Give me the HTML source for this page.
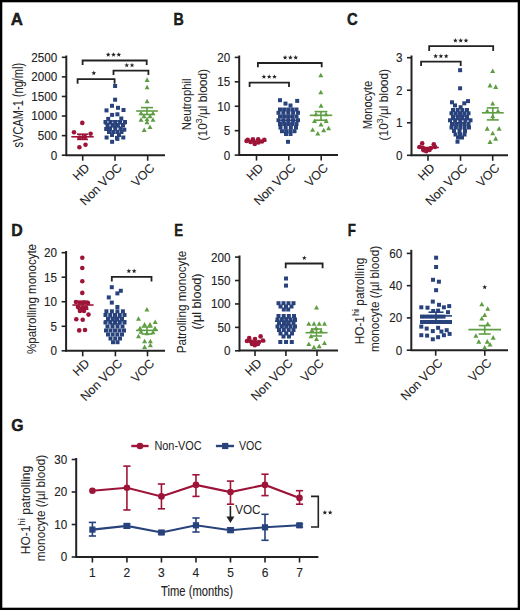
<!DOCTYPE html>
<html><head><meta charset="utf-8"><style>
html,body{margin:0;padding:0;background:#fff;}
body{width:520px;height:610px;overflow:hidden;}
svg{display:block;font-family:"Liberation Sans", sans-serif;}
</style></head><body>
<svg width="520" height="610" viewBox="0 0 520 610">
<rect x="0" y="0" width="520" height="610" fill="#fff"/>
<rect x="1.15" y="1.15" width="517.7" height="607.7" fill="none" stroke="#000" stroke-width="2.3"/>
<text x="10.8" y="25" font-size="17" text-anchor="start" font-weight="bold" fill="#222222" textLength="12.2" lengthAdjust="spacingAndGlyphs" stroke="#000" stroke-width="0.4">A</text>
<text x="173.5" y="24.8" font-size="17" text-anchor="start" font-weight="bold" fill="#222222" textLength="10.3" lengthAdjust="spacingAndGlyphs" stroke="#000" stroke-width="0.4">B</text>
<text x="346.9" y="25" font-size="17" text-anchor="start" font-weight="bold" fill="#222222" textLength="10.7" lengthAdjust="spacingAndGlyphs" stroke="#000" stroke-width="0.4">C</text>
<text x="11.2" y="236" font-size="17" text-anchor="start" font-weight="bold" fill="#222222" textLength="11.5" lengthAdjust="spacingAndGlyphs" stroke="#000" stroke-width="0.4">D</text>
<text x="174.2" y="236" font-size="17" text-anchor="start" font-weight="bold" fill="#222222" textLength="8.8" lengthAdjust="spacingAndGlyphs" stroke="#000" stroke-width="0.4">E</text>
<text x="347.7" y="236" font-size="17" text-anchor="start" font-weight="bold" fill="#222222" textLength="8.1" lengthAdjust="spacingAndGlyphs" stroke="#000" stroke-width="0.4">F</text>
<text x="11.2" y="431.3" font-size="17" text-anchor="start" font-weight="bold" fill="#222222" textLength="12.3" lengthAdjust="spacingAndGlyphs" stroke="#000" stroke-width="0.4">G</text>
<line x1="66.3" y1="55.5" x2="66.3" y2="156.0" stroke="#222222" stroke-width="2"/>
<line x1="65.5" y1="155.2" x2="165" y2="155.2" stroke="#222222" stroke-width="2"/>
<line x1="61.8" y1="155.2" x2="66.3" y2="155.2" stroke="#222222" stroke-width="1.6"/>
<text x="57.3" y="159.6" font-size="12" text-anchor="end" font-weight="normal" fill="#222222" textLength="6.5" lengthAdjust="spacingAndGlyphs" stroke="#262626" stroke-width="0.12">0</text>
<line x1="61.8" y1="135.62" x2="66.3" y2="135.62" stroke="#222222" stroke-width="1.6"/>
<text x="57.3" y="140.02" font-size="12" text-anchor="end" font-weight="normal" fill="#222222" textLength="19.5" lengthAdjust="spacingAndGlyphs" stroke="#262626" stroke-width="0.12">500</text>
<line x1="61.8" y1="116.03999999999999" x2="66.3" y2="116.03999999999999" stroke="#222222" stroke-width="1.6"/>
<text x="57.3" y="120.44" font-size="12" text-anchor="end" font-weight="normal" fill="#222222" textLength="26.0" lengthAdjust="spacingAndGlyphs" stroke="#262626" stroke-width="0.12">1000</text>
<line x1="61.8" y1="96.45999999999998" x2="66.3" y2="96.45999999999998" stroke="#222222" stroke-width="1.6"/>
<text x="57.3" y="100.85999999999999" font-size="12" text-anchor="end" font-weight="normal" fill="#222222" textLength="26.0" lengthAdjust="spacingAndGlyphs" stroke="#262626" stroke-width="0.12">1500</text>
<line x1="61.8" y1="76.88" x2="66.3" y2="76.88" stroke="#222222" stroke-width="1.6"/>
<text x="57.3" y="81.28" font-size="12" text-anchor="end" font-weight="normal" fill="#222222" textLength="26.0" lengthAdjust="spacingAndGlyphs" stroke="#262626" stroke-width="0.12">2000</text>
<line x1="61.8" y1="57.3" x2="66.3" y2="57.3" stroke="#222222" stroke-width="1.6"/>
<text x="57.3" y="61.699999999999996" font-size="12" text-anchor="end" font-weight="normal" fill="#222222" textLength="26.0" lengthAdjust="spacingAndGlyphs" stroke="#262626" stroke-width="0.12">2500</text>
<line x1="82.7" y1="155.2" x2="82.7" y2="160.7" stroke="#222222" stroke-width="1.6"/>
<text x="90.3" y="168.7" font-size="12.3" text-anchor="end" font-weight="normal" fill="#222222" transform="rotate(-45 90.3 168.7)" stroke="#262626" stroke-width="0.12">HD</text>
<line x1="115" y1="155.2" x2="115" y2="160.7" stroke="#222222" stroke-width="1.6"/>
<text x="122.6" y="168.7" font-size="12.3" text-anchor="end" font-weight="normal" fill="#222222" textLength="53" lengthAdjust="spacingAndGlyphs" transform="rotate(-45 122.6 168.7)" stroke="#262626" stroke-width="0.12">Non VOC</text>
<line x1="147.7" y1="155.2" x2="147.7" y2="160.7" stroke="#222222" stroke-width="1.6"/>
<text x="155.29999999999998" y="168.7" font-size="12.3" text-anchor="end" font-weight="normal" fill="#222222" transform="rotate(-45 155.29999999999998 168.7)" stroke="#262626" stroke-width="0.12">VOC</text>
<text x="22.8" y="105.1" font-size="14" text-anchor="middle" font-weight="normal" fill="#262626" textLength="84.6" lengthAdjust="spacingAndGlyphs" transform="rotate(-90 22.8 105.1)" stroke="#262626" stroke-width="0.05">sVCAM-1 (ng/ml)</text>
<polyline points="77.6,83.8 77.6,79.1 114.6,79.1 114.6,83.8" fill="none" stroke="#222222" stroke-width="1.8"/>
<polygon points="93.80,70.60 94.42,72.25 96.18,72.33 94.80,73.42 95.27,75.12 93.80,74.15 92.33,75.12 92.80,73.42 91.42,72.33 93.18,72.25" fill="#222222"/>
<polyline points="113.5,74.9 113.5,70.7 148.4,70.7 148.4,74.9" fill="none" stroke="#222222" stroke-width="1.8"/>
<polygon points="126.75,62.80 127.37,64.45 129.13,64.53 127.75,65.62 128.22,67.32 126.75,66.35 125.28,67.32 125.75,65.62 124.37,64.53 126.13,64.45" fill="#222222"/>
<polygon points="132.05,62.80 132.67,64.45 134.43,64.53 133.05,65.62 133.52,67.32 132.05,66.35 130.58,67.32 131.05,65.62 129.67,64.53 131.43,64.45" fill="#222222"/>
<polyline points="82.6,65 82.6,60.5 146.7,60.5 146.7,65" fill="none" stroke="#222222" stroke-width="1.8"/>
<polygon points="108.20,52.20 108.82,53.85 110.58,53.93 109.20,55.02 109.67,56.72 108.20,55.75 106.73,56.72 107.20,55.02 105.82,53.93 107.58,53.85" fill="#222222"/>
<polygon points="113.50,52.20 114.12,53.85 115.88,53.93 114.50,55.02 114.97,56.72 113.50,55.75 112.03,56.72 112.50,55.02 111.12,53.93 112.88,53.85" fill="#222222"/>
<polygon points="118.80,52.20 119.42,53.85 121.18,53.93 119.80,55.02 120.27,56.72 118.80,55.75 117.33,56.72 117.80,55.02 116.42,53.93 118.18,53.85" fill="#222222"/>
<circle cx="82.3" cy="122.9" r="2.3" fill="#9e1438"/>
<circle cx="74" cy="132.2" r="2.3" fill="#9e1438"/>
<circle cx="90.6" cy="133.7" r="2.3" fill="#9e1438"/>
<circle cx="79.4" cy="147.2" r="2.3" fill="#9e1438"/>
<circle cx="85.5" cy="144.8" r="2.3" fill="#9e1438"/>
<circle cx="79.5" cy="137.5" r="2.3" fill="#9e1438"/>
<circle cx="85" cy="137" r="2.3" fill="#9e1438"/>
<line x1="71.3" y1="136.8" x2="93.7" y2="136.8" stroke="#9e1438" stroke-width="1.6"/>
<line x1="77.0" y1="134.2" x2="88.0" y2="134.2" stroke="#9e1438" stroke-width="1.6"/>
<line x1="77.0" y1="139.4" x2="88.0" y2="139.4" stroke="#9e1438" stroke-width="1.6"/>
<line x1="82.5" y1="134.2" x2="82.5" y2="139.4" stroke="#9e1438" stroke-width="1.6"/>
<rect x="113.10" y="84.00" width="4.0" height="4.0" fill="#28427c"/>
<rect x="113.10" y="97.70" width="4.0" height="4.0" fill="#28427c"/>
<rect x="110.00" y="103.80" width="4.0" height="4.0" fill="#28427c"/>
<rect x="116.00" y="105.80" width="4.0" height="4.0" fill="#28427c"/>
<rect x="104.50" y="108.40" width="4.0" height="4.0" fill="#28427c"/>
<rect x="121.50" y="108.00" width="4.0" height="4.0" fill="#28427c"/>
<rect x="110.10" y="112.90" width="4.0" height="4.0" fill="#28427c"/>
<rect x="115.40" y="112.30" width="4.0" height="4.0" fill="#28427c"/>
<rect x="106.20" y="116.90" width="4.0" height="4.0" fill="#28427c"/>
<rect x="119.30" y="116.50" width="4.0" height="4.0" fill="#28427c"/>
<rect x="104.20" y="127.00" width="4.0" height="4.0" fill="#28427c"/>
<rect x="122.30" y="127.70" width="4.0" height="4.0" fill="#28427c"/>
<rect x="104.60" y="135.50" width="4.0" height="4.0" fill="#28427c"/>
<rect x="110.10" y="139.80" width="4.0" height="4.0" fill="#28427c"/>
<rect x="115.40" y="136.90" width="4.0" height="4.0" fill="#28427c"/>
<rect x="121.30" y="135.50" width="4.0" height="4.0" fill="#28427c"/>
<rect x="103.50" y="120.00" width="4.0" height="4.0" fill="#28427c"/>
<rect x="108.38" y="120.00" width="4.0" height="4.0" fill="#28427c"/>
<rect x="113.25" y="120.00" width="4.0" height="4.0" fill="#28427c"/>
<rect x="118.12" y="120.00" width="4.0" height="4.0" fill="#28427c"/>
<rect x="123.00" y="120.00" width="4.0" height="4.0" fill="#28427c"/>
<rect x="105.50" y="123.50" width="4.0" height="4.0" fill="#28427c"/>
<rect x="110.67" y="123.50" width="4.0" height="4.0" fill="#28427c"/>
<rect x="115.83" y="123.50" width="4.0" height="4.0" fill="#28427c"/>
<rect x="121.00" y="123.50" width="4.0" height="4.0" fill="#28427c"/>
<rect x="108.00" y="126.50" width="4.0" height="4.0" fill="#28427c"/>
<rect x="113.25" y="126.50" width="4.0" height="4.0" fill="#28427c"/>
<rect x="118.50" y="126.50" width="4.0" height="4.0" fill="#28427c"/>
<rect x="107.00" y="130.00" width="4.0" height="4.0" fill="#28427c"/>
<rect x="111.17" y="130.00" width="4.0" height="4.0" fill="#28427c"/>
<rect x="115.33" y="130.00" width="4.0" height="4.0" fill="#28427c"/>
<rect x="119.50" y="130.00" width="4.0" height="4.0" fill="#28427c"/>
<rect x="110.00" y="133.00" width="4.0" height="4.0" fill="#28427c"/>
<rect x="117.00" y="133.00" width="4.0" height="4.0" fill="#28427c"/>
<rect x="115.00" y="135.80" width="4.0" height="4.0" fill="#28427c"/>
<line x1="104.2" y1="123.8" x2="126.2" y2="123.8" stroke="#28427c" stroke-width="1.6"/>
<line x1="110.2" y1="121" x2="120.2" y2="121" stroke="#28427c" stroke-width="1.6"/>
<line x1="110.2" y1="126.5" x2="120.2" y2="126.5" stroke="#28427c" stroke-width="1.6"/>
<line x1="115.2" y1="121" x2="115.2" y2="126.5" stroke="#28427c" stroke-width="1.6"/>
<polygon points="144.60,81.90 149.60,81.90 147.10,77.30" fill="#5f9d43"/>
<polygon points="144.60,89.30 149.60,89.30 147.10,84.70" fill="#5f9d43"/>
<polygon points="144.60,103.30 149.60,103.30 147.10,98.70" fill="#5f9d43"/>
<polygon points="141.70,132.00 146.70,132.00 144.20,127.40" fill="#5f9d43"/>
<polygon points="147.50,129.10 152.50,129.10 150.00,124.50" fill="#5f9d43"/>
<polygon points="138.50,115.30 143.50,115.30 141.00,110.70" fill="#5f9d43"/>
<polygon points="150.50,115.30 155.50,115.30 153.00,110.70" fill="#5f9d43"/>
<polygon points="141.50,118.30 146.50,118.30 144.00,113.70" fill="#5f9d43"/>
<polygon points="147.50,118.30 152.50,118.30 150.00,113.70" fill="#5f9d43"/>
<polygon points="144.50,121.30 149.50,121.30 147.00,116.70" fill="#5f9d43"/>
<polygon points="138.50,121.80 143.50,121.80 141.00,117.20" fill="#5f9d43"/>
<polygon points="150.50,121.80 155.50,121.80 153.00,117.20" fill="#5f9d43"/>
<polygon points="144.50,124.30 149.50,124.30 147.00,119.70" fill="#5f9d43"/>
<line x1="136.2" y1="111" x2="157.8" y2="111" stroke="#5f9d43" stroke-width="1.6"/>
<line x1="141" y1="107.6" x2="153" y2="107.6" stroke="#5f9d43" stroke-width="1.6"/>
<line x1="141" y1="114.5" x2="153" y2="114.5" stroke="#5f9d43" stroke-width="1.6"/>
<line x1="147" y1="107.6" x2="147" y2="114.5" stroke="#5f9d43" stroke-width="1.6"/>
<line x1="239.2" y1="55.5" x2="239.2" y2="155.9" stroke="#222222" stroke-width="2"/>
<line x1="238.39999999999998" y1="155.1" x2="338" y2="155.1" stroke="#222222" stroke-width="2"/>
<line x1="234.7" y1="155.1" x2="239.2" y2="155.1" stroke="#222222" stroke-width="1.6"/>
<text x="230.2" y="159.5" font-size="12" text-anchor="end" font-weight="normal" fill="#222222" textLength="6.5" lengthAdjust="spacingAndGlyphs" stroke="#262626" stroke-width="0.12">0</text>
<line x1="234.7" y1="130.675" x2="239.2" y2="130.675" stroke="#222222" stroke-width="1.6"/>
<text x="230.2" y="135.07500000000002" font-size="12" text-anchor="end" font-weight="normal" fill="#222222" textLength="6.5" lengthAdjust="spacingAndGlyphs" stroke="#262626" stroke-width="0.12">5</text>
<line x1="234.7" y1="106.25" x2="239.2" y2="106.25" stroke="#222222" stroke-width="1.6"/>
<text x="230.2" y="110.65" font-size="12" text-anchor="end" font-weight="normal" fill="#222222" textLength="13.0" lengthAdjust="spacingAndGlyphs" stroke="#262626" stroke-width="0.12">10</text>
<line x1="234.7" y1="81.825" x2="239.2" y2="81.825" stroke="#222222" stroke-width="1.6"/>
<text x="230.2" y="86.22500000000001" font-size="12" text-anchor="end" font-weight="normal" fill="#222222" textLength="13.0" lengthAdjust="spacingAndGlyphs" stroke="#262626" stroke-width="0.12">15</text>
<line x1="234.7" y1="57.400000000000006" x2="239.2" y2="57.400000000000006" stroke="#222222" stroke-width="1.6"/>
<text x="230.2" y="61.800000000000004" font-size="12" text-anchor="end" font-weight="normal" fill="#222222" textLength="13.0" lengthAdjust="spacingAndGlyphs" stroke="#262626" stroke-width="0.12">20</text>
<line x1="256.5" y1="155.1" x2="256.5" y2="160.6" stroke="#222222" stroke-width="1.6"/>
<text x="264.1" y="168.6" font-size="12.3" text-anchor="end" font-weight="normal" fill="#222222" transform="rotate(-45 264.1 168.6)" stroke="#262626" stroke-width="0.12">HD</text>
<line x1="288.8" y1="155.1" x2="288.8" y2="160.6" stroke="#222222" stroke-width="1.6"/>
<text x="296.40000000000003" y="168.6" font-size="12.3" text-anchor="end" font-weight="normal" fill="#222222" textLength="53" lengthAdjust="spacingAndGlyphs" transform="rotate(-45 296.40000000000003 168.6)" stroke="#262626" stroke-width="0.12">Non VOC</text>
<line x1="321.2" y1="155.1" x2="321.2" y2="160.6" stroke="#222222" stroke-width="1.6"/>
<text x="328.8" y="168.6" font-size="12.3" text-anchor="end" font-weight="normal" fill="#222222" transform="rotate(-45 328.8 168.6)" stroke="#262626" stroke-width="0.12">VOC</text>
<text x="191.3" y="104.3" font-size="12.3" text-anchor="middle" font-weight="normal" fill="#262626" textLength="51.7" lengthAdjust="spacingAndGlyphs" transform="rotate(-90 191.3 104.3)" stroke="#262626" stroke-width="0.05">Neutrophil</text>
<text x="207" y="104.7" font-size="12.3" text-anchor="middle" font-weight="normal" fill="#262626" textLength="71.5" lengthAdjust="spacingAndGlyphs" transform="rotate(-90 207 104.7)" stroke="#262626" stroke-width="0.05">(10<tspan font-size='9' dy='-4.5'>3</tspan><tspan dy='4.5'>/µl blood)</tspan></text>
<polyline points="249.6,87 249.6,82.7 289,82.7 289,87" fill="none" stroke="#222222" stroke-width="1.8"/>
<polygon points="263.90,74.30 264.52,75.95 266.28,76.03 264.90,77.12 265.37,78.82 263.90,77.85 262.43,78.82 262.90,77.12 261.52,76.03 263.28,75.95" fill="#222222"/>
<polygon points="269.20,74.30 269.82,75.95 271.58,76.03 270.20,77.12 270.67,78.82 269.20,77.85 267.73,78.82 268.20,77.12 266.82,76.03 268.58,75.95" fill="#222222"/>
<polygon points="274.50,74.30 275.12,75.95 276.88,76.03 275.50,77.12 275.97,78.82 274.50,77.85 273.03,78.82 273.50,77.12 272.12,76.03 273.88,75.95" fill="#222222"/>
<polyline points="257.9,67.3 257.9,63 321.7,63 321.7,67.3" fill="none" stroke="#222222" stroke-width="1.8"/>
<polygon points="285.10,55.10 285.72,56.75 287.48,56.83 286.10,57.92 286.57,59.62 285.10,58.65 283.63,59.62 284.10,57.92 282.72,56.83 284.48,56.75" fill="#222222"/>
<polygon points="290.40,55.10 291.02,56.75 292.78,56.83 291.40,57.92 291.87,59.62 290.40,58.65 288.93,59.62 289.40,57.92 288.02,56.83 289.78,56.75" fill="#222222"/>
<polygon points="295.70,55.10 296.32,56.75 298.08,56.83 296.70,57.92 297.17,59.62 295.70,58.65 294.23,59.62 294.70,57.92 293.32,56.83 295.08,56.75" fill="#222222"/>
<circle cx="247.7" cy="139.7" r="2.3" fill="#9e1438"/>
<circle cx="252.9" cy="139.3" r="2.3" fill="#9e1438"/>
<circle cx="258.2" cy="139.3" r="2.3" fill="#9e1438"/>
<circle cx="264.3" cy="139.7" r="2.3" fill="#9e1438"/>
<circle cx="246.5" cy="141" r="2.3" fill="#9e1438"/>
<circle cx="250.5" cy="142" r="2.3" fill="#9e1438"/>
<circle cx="254.5" cy="142.8" r="2.3" fill="#9e1438"/>
<circle cx="258.5" cy="142.5" r="2.3" fill="#9e1438"/>
<circle cx="262" cy="141.5" r="2.3" fill="#9e1438"/>
<circle cx="254.8" cy="144" r="2.3" fill="#9e1438"/>
<line x1="245" y1="141" x2="266.5" y2="141" stroke="#9e1438" stroke-width="1.6"/>
<rect x="278.00" y="98.20" width="4.0" height="4.0" fill="#28427c"/>
<rect x="295.20" y="98.90" width="4.0" height="4.0" fill="#28427c"/>
<rect x="283.50" y="101.60" width="4.0" height="4.0" fill="#28427c"/>
<rect x="288.50" y="103.50" width="4.0" height="4.0" fill="#28427c"/>
<rect x="286.00" y="139.80" width="4.0" height="4.0" fill="#28427c"/>
<rect x="278.00" y="107.50" width="4.0" height="4.0" fill="#28427c"/>
<rect x="282.12" y="107.50" width="4.0" height="4.0" fill="#28427c"/>
<rect x="286.25" y="107.50" width="4.0" height="4.0" fill="#28427c"/>
<rect x="290.38" y="107.50" width="4.0" height="4.0" fill="#28427c"/>
<rect x="294.50" y="107.50" width="4.0" height="4.0" fill="#28427c"/>
<rect x="276.50" y="110.80" width="4.0" height="4.0" fill="#28427c"/>
<rect x="281.38" y="110.80" width="4.0" height="4.0" fill="#28427c"/>
<rect x="286.25" y="110.80" width="4.0" height="4.0" fill="#28427c"/>
<rect x="291.12" y="110.80" width="4.0" height="4.0" fill="#28427c"/>
<rect x="296.00" y="110.80" width="4.0" height="4.0" fill="#28427c"/>
<rect x="278.00" y="114.50" width="4.0" height="4.0" fill="#28427c"/>
<rect x="282.12" y="114.50" width="4.0" height="4.0" fill="#28427c"/>
<rect x="286.25" y="114.50" width="4.0" height="4.0" fill="#28427c"/>
<rect x="290.38" y="114.50" width="4.0" height="4.0" fill="#28427c"/>
<rect x="294.50" y="114.50" width="4.0" height="4.0" fill="#28427c"/>
<rect x="276.50" y="118.20" width="4.0" height="4.0" fill="#28427c"/>
<rect x="281.38" y="118.20" width="4.0" height="4.0" fill="#28427c"/>
<rect x="286.25" y="118.20" width="4.0" height="4.0" fill="#28427c"/>
<rect x="291.12" y="118.20" width="4.0" height="4.0" fill="#28427c"/>
<rect x="296.00" y="118.20" width="4.0" height="4.0" fill="#28427c"/>
<rect x="278.00" y="122.00" width="4.0" height="4.0" fill="#28427c"/>
<rect x="282.12" y="122.00" width="4.0" height="4.0" fill="#28427c"/>
<rect x="286.25" y="122.00" width="4.0" height="4.0" fill="#28427c"/>
<rect x="290.38" y="122.00" width="4.0" height="4.0" fill="#28427c"/>
<rect x="294.50" y="122.00" width="4.0" height="4.0" fill="#28427c"/>
<rect x="278.50" y="125.60" width="4.0" height="4.0" fill="#28427c"/>
<rect x="283.67" y="125.60" width="4.0" height="4.0" fill="#28427c"/>
<rect x="288.83" y="125.60" width="4.0" height="4.0" fill="#28427c"/>
<rect x="294.00" y="125.60" width="4.0" height="4.0" fill="#28427c"/>
<rect x="280.00" y="129.20" width="4.0" height="4.0" fill="#28427c"/>
<rect x="284.17" y="129.20" width="4.0" height="4.0" fill="#28427c"/>
<rect x="288.33" y="129.20" width="4.0" height="4.0" fill="#28427c"/>
<rect x="292.50" y="129.20" width="4.0" height="4.0" fill="#28427c"/>
<rect x="284.00" y="132.00" width="4.0" height="4.0" fill="#28427c"/>
<rect x="288.50" y="132.00" width="4.0" height="4.0" fill="#28427c"/>
<line x1="277.8" y1="120.4" x2="298.8" y2="120.4" stroke="#28427c" stroke-width="1.6"/>
<line x1="283.3" y1="116.5" x2="293.3" y2="116.5" stroke="#28427c" stroke-width="1.6"/>
<line x1="283.3" y1="124" x2="293.3" y2="124" stroke="#28427c" stroke-width="1.6"/>
<line x1="288.3" y1="116.5" x2="288.3" y2="124" stroke="#28427c" stroke-width="1.6"/>
<polygon points="318.30,77.30 323.30,77.30 320.80,72.70" fill="#5f9d43"/>
<polygon points="318.30,94.30 323.30,94.30 320.80,89.70" fill="#5f9d43"/>
<polygon points="318.50,107.80 323.50,107.80 321.00,103.20" fill="#5f9d43"/>
<polygon points="312.00,123.10 317.00,123.10 314.50,118.50" fill="#5f9d43"/>
<polygon points="323.70,123.10 328.70,123.10 326.20,118.50" fill="#5f9d43"/>
<polygon points="318.50,126.60 323.50,126.60 321.00,122.00" fill="#5f9d43"/>
<polygon points="310.10,131.80 315.10,131.80 312.60,127.20" fill="#5f9d43"/>
<polygon points="321.20,132.30 326.20,132.30 323.70,127.70" fill="#5f9d43"/>
<polygon points="326.10,130.30 331.10,130.30 328.60,125.70" fill="#5f9d43"/>
<polygon points="315.30,135.50 320.30,135.50 317.80,130.90" fill="#5f9d43"/>
<polygon points="313.50,116.30 318.50,116.30 316.00,111.70" fill="#5f9d43"/>
<polygon points="323.50,116.30 328.50,116.30 326.00,111.70" fill="#5f9d43"/>
<line x1="309.8" y1="115.3" x2="332.2" y2="115.3" stroke="#5f9d43" stroke-width="1.6"/>
<line x1="314.6" y1="111.6" x2="327.4" y2="111.6" stroke="#5f9d43" stroke-width="1.6"/>
<line x1="314.6" y1="120.2" x2="327.4" y2="120.2" stroke="#5f9d43" stroke-width="1.6"/>
<line x1="321" y1="111.6" x2="321" y2="120.2" stroke="#5f9d43" stroke-width="1.6"/>
<line x1="411.5" y1="55.5" x2="411.5" y2="156.10000000000002" stroke="#222222" stroke-width="2"/>
<line x1="410.7" y1="155.3" x2="508" y2="155.3" stroke="#222222" stroke-width="2"/>
<line x1="407.0" y1="155.3" x2="411.5" y2="155.3" stroke="#222222" stroke-width="1.6"/>
<text x="402.5" y="159.70000000000002" font-size="12" text-anchor="end" font-weight="normal" fill="#222222" textLength="6.5" lengthAdjust="spacingAndGlyphs" stroke="#262626" stroke-width="0.12">0</text>
<line x1="407.0" y1="122.76666666666668" x2="411.5" y2="122.76666666666668" stroke="#222222" stroke-width="1.6"/>
<text x="402.5" y="127.16666666666669" font-size="12" text-anchor="end" font-weight="normal" fill="#222222" textLength="6.5" lengthAdjust="spacingAndGlyphs" stroke="#262626" stroke-width="0.12">1</text>
<line x1="407.0" y1="90.23333333333333" x2="411.5" y2="90.23333333333333" stroke="#222222" stroke-width="1.6"/>
<text x="402.5" y="94.63333333333334" font-size="12" text-anchor="end" font-weight="normal" fill="#222222" textLength="6.5" lengthAdjust="spacingAndGlyphs" stroke="#262626" stroke-width="0.12">2</text>
<line x1="407.0" y1="57.7" x2="411.5" y2="57.7" stroke="#222222" stroke-width="1.6"/>
<text x="402.5" y="62.1" font-size="12" text-anchor="end" font-weight="normal" fill="#222222" textLength="6.5" lengthAdjust="spacingAndGlyphs" stroke="#262626" stroke-width="0.12">3</text>
<line x1="428" y1="155.3" x2="428" y2="160.8" stroke="#222222" stroke-width="1.6"/>
<text x="435.6" y="168.8" font-size="12.3" text-anchor="end" font-weight="normal" fill="#222222" transform="rotate(-45 435.6 168.8)" stroke="#262626" stroke-width="0.12">HD</text>
<line x1="460.5" y1="155.3" x2="460.5" y2="160.8" stroke="#222222" stroke-width="1.6"/>
<text x="468.1" y="168.8" font-size="12.3" text-anchor="end" font-weight="normal" fill="#222222" textLength="53" lengthAdjust="spacingAndGlyphs" transform="rotate(-45 468.1 168.8)" stroke="#262626" stroke-width="0.12">Non VOC</text>
<line x1="492.7" y1="155.3" x2="492.7" y2="160.8" stroke="#222222" stroke-width="1.6"/>
<text x="500.3" y="168.8" font-size="12.3" text-anchor="end" font-weight="normal" fill="#222222" transform="rotate(-45 500.3 168.8)" stroke="#262626" stroke-width="0.12">VOC</text>
<text x="372" y="105" font-size="12.3" text-anchor="middle" font-weight="normal" fill="#262626" textLength="48.6" lengthAdjust="spacingAndGlyphs" transform="rotate(-90 372 105)" stroke="#262626" stroke-width="0.05">Monocyte</text>
<text x="388" y="104.7" font-size="12.3" text-anchor="middle" font-weight="normal" fill="#262626" textLength="71.5" lengthAdjust="spacingAndGlyphs" transform="rotate(-90 388 104.7)" stroke="#262626" stroke-width="0.05">(10<tspan font-size='9' dy='-4.5'>3</tspan><tspan dy='4.5'>/µl blood)</tspan></text>
<polyline points="421.1,65.9 421.1,61.7 460.7,61.7 460.7,65.9" fill="none" stroke="#222222" stroke-width="1.8"/>
<polygon points="435.60,53.70 436.22,55.35 437.98,55.43 436.60,56.52 437.07,58.22 435.60,57.25 434.13,58.22 434.60,56.52 433.22,55.43 434.98,55.35" fill="#222222"/>
<polygon points="440.90,53.70 441.52,55.35 443.28,55.43 441.90,56.52 442.37,58.22 440.90,57.25 439.43,58.22 439.90,56.52 438.52,55.43 440.28,55.35" fill="#222222"/>
<polygon points="446.20,53.70 446.82,55.35 448.58,55.43 447.20,56.52 447.67,58.22 446.20,57.25 444.73,58.22 445.20,56.52 443.82,55.43 445.58,55.35" fill="#222222"/>
<polyline points="429.2,51 429.2,46.1 493.2,46.1 493.2,51" fill="none" stroke="#222222" stroke-width="1.8"/>
<polygon points="455.40,38.10 456.02,39.75 457.78,39.83 456.40,40.92 456.87,42.62 455.40,41.65 453.93,42.62 454.40,40.92 453.02,39.83 454.78,39.75" fill="#222222"/>
<polygon points="460.70,38.10 461.32,39.75 463.08,39.83 461.70,40.92 462.17,42.62 460.70,41.65 459.23,42.62 459.70,40.92 458.32,39.83 460.08,39.75" fill="#222222"/>
<polygon points="466.00,38.10 466.62,39.75 468.38,39.83 467.00,40.92 467.47,42.62 466.00,41.65 464.53,42.62 465.00,40.92 463.62,39.83 465.38,39.75" fill="#222222"/>
<circle cx="422.2" cy="143.4" r="2.3" fill="#9e1438"/>
<circle cx="433.8" cy="144.2" r="2.3" fill="#9e1438"/>
<circle cx="419.5" cy="147" r="2.3" fill="#9e1438"/>
<circle cx="423" cy="148" r="2.3" fill="#9e1438"/>
<circle cx="427" cy="149.5" r="2.3" fill="#9e1438"/>
<circle cx="431" cy="148" r="2.3" fill="#9e1438"/>
<circle cx="435" cy="147" r="2.3" fill="#9e1438"/>
<circle cx="426.2" cy="151.3" r="2.3" fill="#9e1438"/>
<circle cx="429.5" cy="150" r="2.3" fill="#9e1438"/>
<circle cx="423.5" cy="150.2" r="2.3" fill="#9e1438"/>
<line x1="417.2" y1="147.5" x2="438.8" y2="147.5" stroke="#9e1438" stroke-width="1.6"/>
<rect x="450.00" y="100.30" width="4.0" height="4.0" fill="#28427c"/>
<rect x="466.00" y="99.10" width="4.0" height="4.0" fill="#28427c"/>
<rect x="462.30" y="101.30" width="4.0" height="4.0" fill="#28427c"/>
<rect x="453.00" y="103.40" width="4.0" height="4.0" fill="#28427c"/>
<rect x="458.60" y="105.20" width="4.0" height="4.0" fill="#28427c"/>
<rect x="455.50" y="139.70" width="4.0" height="4.0" fill="#28427c"/>
<rect x="458.10" y="68.20" width="4.0" height="4.0" fill="#28427c"/>
<rect x="458.10" y="86.30" width="4.0" height="4.0" fill="#28427c"/>
<rect x="451.00" y="108.00" width="4.0" height="4.0" fill="#28427c"/>
<rect x="455.67" y="108.00" width="4.0" height="4.0" fill="#28427c"/>
<rect x="460.33" y="108.00" width="4.0" height="4.0" fill="#28427c"/>
<rect x="465.00" y="108.00" width="4.0" height="4.0" fill="#28427c"/>
<rect x="449.50" y="111.30" width="4.0" height="4.0" fill="#28427c"/>
<rect x="453.75" y="111.30" width="4.0" height="4.0" fill="#28427c"/>
<rect x="458.00" y="111.30" width="4.0" height="4.0" fill="#28427c"/>
<rect x="462.25" y="111.30" width="4.0" height="4.0" fill="#28427c"/>
<rect x="466.50" y="111.30" width="4.0" height="4.0" fill="#28427c"/>
<rect x="451.00" y="115.00" width="4.0" height="4.0" fill="#28427c"/>
<rect x="455.67" y="115.00" width="4.0" height="4.0" fill="#28427c"/>
<rect x="460.33" y="115.00" width="4.0" height="4.0" fill="#28427c"/>
<rect x="465.00" y="115.00" width="4.0" height="4.0" fill="#28427c"/>
<rect x="448.00" y="118.30" width="4.0" height="4.0" fill="#28427c"/>
<rect x="453.12" y="118.30" width="4.0" height="4.0" fill="#28427c"/>
<rect x="458.25" y="118.30" width="4.0" height="4.0" fill="#28427c"/>
<rect x="463.38" y="118.30" width="4.0" height="4.0" fill="#28427c"/>
<rect x="468.50" y="118.30" width="4.0" height="4.0" fill="#28427c"/>
<rect x="450.00" y="122.00" width="4.0" height="4.0" fill="#28427c"/>
<rect x="454.12" y="122.00" width="4.0" height="4.0" fill="#28427c"/>
<rect x="458.25" y="122.00" width="4.0" height="4.0" fill="#28427c"/>
<rect x="462.38" y="122.00" width="4.0" height="4.0" fill="#28427c"/>
<rect x="466.50" y="122.00" width="4.0" height="4.0" fill="#28427c"/>
<rect x="449.50" y="125.50" width="4.0" height="4.0" fill="#28427c"/>
<rect x="453.88" y="125.50" width="4.0" height="4.0" fill="#28427c"/>
<rect x="458.25" y="125.50" width="4.0" height="4.0" fill="#28427c"/>
<rect x="462.62" y="125.50" width="4.0" height="4.0" fill="#28427c"/>
<rect x="467.00" y="125.50" width="4.0" height="4.0" fill="#28427c"/>
<rect x="452.00" y="129.00" width="4.0" height="4.0" fill="#28427c"/>
<rect x="457.50" y="129.00" width="4.0" height="4.0" fill="#28427c"/>
<rect x="463.00" y="129.00" width="4.0" height="4.0" fill="#28427c"/>
<rect x="453.50" y="132.50" width="4.0" height="4.0" fill="#28427c"/>
<rect x="458.00" y="132.50" width="4.0" height="4.0" fill="#28427c"/>
<rect x="462.50" y="132.50" width="4.0" height="4.0" fill="#28427c"/>
<rect x="456.00" y="135.50" width="4.0" height="4.0" fill="#28427c"/>
<rect x="460.00" y="135.50" width="4.0" height="4.0" fill="#28427c"/>
<line x1="449.8" y1="119.5" x2="470.8" y2="119.5" stroke="#28427c" stroke-width="1.6"/>
<line x1="455.3" y1="116" x2="465.3" y2="116" stroke="#28427c" stroke-width="1.6"/>
<line x1="455.3" y1="123" x2="465.3" y2="123" stroke="#28427c" stroke-width="1.6"/>
<line x1="460.3" y1="116" x2="460.3" y2="123" stroke="#28427c" stroke-width="1.6"/>
<polygon points="490.20,73.10 495.20,73.10 492.70,68.50" fill="#5f9d43"/>
<polygon points="487.50,87.40 492.50,87.40 490.00,82.80" fill="#5f9d43"/>
<polygon points="493.20,88.90 498.20,88.90 495.70,84.30" fill="#5f9d43"/>
<polygon points="490.20,105.50 495.20,105.50 492.70,100.90" fill="#5f9d43"/>
<polygon points="484.70,113.00 489.70,113.00 487.20,108.40" fill="#5f9d43"/>
<polygon points="495.50,113.00 500.50,113.00 498.00,108.40" fill="#5f9d43"/>
<polygon points="484.70,130.70 489.70,130.70 487.20,126.10" fill="#5f9d43"/>
<polygon points="496.60,130.70 501.60,130.70 499.10,126.10" fill="#5f9d43"/>
<polygon points="490.20,135.30 495.20,135.30 492.70,130.70" fill="#5f9d43"/>
<polygon points="487.50,143.90 492.50,143.90 490.00,139.30" fill="#5f9d43"/>
<polygon points="493.20,140.70 498.20,140.70 495.70,136.10" fill="#5f9d43"/>
<polygon points="490.20,118.30 495.20,118.30 492.70,113.70" fill="#5f9d43"/>
<line x1="481.90000000000003" y1="112.8" x2="503.7" y2="112.8" stroke="#5f9d43" stroke-width="1.6"/>
<line x1="486.8" y1="107.9" x2="498.8" y2="107.9" stroke="#5f9d43" stroke-width="1.6"/>
<line x1="486.8" y1="119.9" x2="498.8" y2="119.9" stroke="#5f9d43" stroke-width="1.6"/>
<line x1="492.8" y1="107.9" x2="492.8" y2="119.9" stroke="#5f9d43" stroke-width="1.6"/>
<line x1="66.1" y1="251" x2="66.1" y2="351.6" stroke="#222222" stroke-width="2"/>
<line x1="65.3" y1="350.8" x2="165" y2="350.8" stroke="#222222" stroke-width="2"/>
<line x1="61.599999999999994" y1="350.8" x2="66.1" y2="350.8" stroke="#222222" stroke-width="1.6"/>
<text x="57.099999999999994" y="355.2" font-size="12" text-anchor="end" font-weight="normal" fill="#222222" textLength="6.5" lengthAdjust="spacingAndGlyphs" stroke="#262626" stroke-width="0.12">0</text>
<line x1="61.599999999999994" y1="326.275" x2="66.1" y2="326.275" stroke="#222222" stroke-width="1.6"/>
<text x="57.099999999999994" y="330.67499999999995" font-size="12" text-anchor="end" font-weight="normal" fill="#222222" textLength="6.5" lengthAdjust="spacingAndGlyphs" stroke="#262626" stroke-width="0.12">5</text>
<line x1="61.599999999999994" y1="301.75" x2="66.1" y2="301.75" stroke="#222222" stroke-width="1.6"/>
<text x="57.099999999999994" y="306.15" font-size="12" text-anchor="end" font-weight="normal" fill="#222222" textLength="13.0" lengthAdjust="spacingAndGlyphs" stroke="#262626" stroke-width="0.12">10</text>
<line x1="61.599999999999994" y1="277.225" x2="66.1" y2="277.225" stroke="#222222" stroke-width="1.6"/>
<text x="57.099999999999994" y="281.625" font-size="12" text-anchor="end" font-weight="normal" fill="#222222" textLength="13.0" lengthAdjust="spacingAndGlyphs" stroke="#262626" stroke-width="0.12">15</text>
<line x1="61.599999999999994" y1="252.7" x2="66.1" y2="252.7" stroke="#222222" stroke-width="1.6"/>
<text x="57.099999999999994" y="257.09999999999997" font-size="12" text-anchor="end" font-weight="normal" fill="#222222" textLength="13.0" lengthAdjust="spacingAndGlyphs" stroke="#262626" stroke-width="0.12">20</text>
<line x1="82.7" y1="350.8" x2="82.7" y2="356.3" stroke="#222222" stroke-width="1.6"/>
<text x="90.3" y="364.3" font-size="12.3" text-anchor="end" font-weight="normal" fill="#222222" transform="rotate(-45 90.3 364.3)" stroke="#262626" stroke-width="0.12">HD</text>
<line x1="115.4" y1="350.8" x2="115.4" y2="356.3" stroke="#222222" stroke-width="1.6"/>
<text x="123.0" y="364.3" font-size="12.3" text-anchor="end" font-weight="normal" fill="#222222" textLength="53" lengthAdjust="spacingAndGlyphs" transform="rotate(-45 123.0 364.3)" stroke="#262626" stroke-width="0.12">Non VOC</text>
<line x1="147.5" y1="350.8" x2="147.5" y2="356.3" stroke="#222222" stroke-width="1.6"/>
<text x="155.1" y="364.3" font-size="12.3" text-anchor="end" font-weight="normal" fill="#222222" transform="rotate(-45 155.1 364.3)" stroke="#262626" stroke-width="0.12">VOC</text>
<text x="35.5" y="299" font-size="13.5" text-anchor="middle" font-weight="normal" fill="#262626" textLength="110" lengthAdjust="spacingAndGlyphs" transform="rotate(-90 35.5 299)" stroke="#262626" stroke-width="0.05">%patrolling monocyte</text>
<polyline points="111.8,281.5 111.8,276.9 151.5,276.9 151.5,281.5" fill="none" stroke="#222222" stroke-width="1.8"/>
<polygon points="128.85,268.60 129.47,270.25 131.23,270.33 129.85,271.42 130.32,273.12 128.85,272.15 127.38,273.12 127.85,271.42 126.47,270.33 128.23,270.25" fill="#222222"/>
<polygon points="134.15,268.60 134.77,270.25 136.53,270.33 135.15,271.42 135.62,273.12 134.15,272.15 132.68,273.12 133.15,271.42 131.77,270.33 133.53,270.25" fill="#222222"/>
<circle cx="82.3" cy="257.7" r="2.3" fill="#9e1438"/>
<circle cx="82.3" cy="268" r="2.3" fill="#9e1438"/>
<circle cx="82.3" cy="281.2" r="2.3" fill="#9e1438"/>
<circle cx="82.3" cy="292.9" r="2.3" fill="#9e1438"/>
<circle cx="88.5" cy="314.6" r="2.3" fill="#9e1438"/>
<circle cx="76.3" cy="319.2" r="2.3" fill="#9e1438"/>
<circle cx="82.7" cy="319.8" r="2.3" fill="#9e1438"/>
<circle cx="79.2" cy="330.4" r="2.3" fill="#9e1438"/>
<circle cx="85" cy="330" r="2.3" fill="#9e1438"/>
<circle cx="76" cy="302" r="2.3" fill="#9e1438"/>
<circle cx="80" cy="303" r="2.3" fill="#9e1438"/>
<circle cx="84" cy="302.5" r="2.3" fill="#9e1438"/>
<circle cx="88" cy="303" r="2.3" fill="#9e1438"/>
<circle cx="78" cy="307" r="2.3" fill="#9e1438"/>
<circle cx="82" cy="308" r="2.3" fill="#9e1438"/>
<circle cx="86" cy="307.5" r="2.3" fill="#9e1438"/>
<circle cx="80" cy="311" r="2.3" fill="#9e1438"/>
<circle cx="84" cy="311" r="2.3" fill="#9e1438"/>
<line x1="72.4" y1="305" x2="93.6" y2="305" stroke="#9e1438" stroke-width="1.6"/>
<line x1="77.5" y1="301.2" x2="88.5" y2="301.2" stroke="#9e1438" stroke-width="1.6"/>
<line x1="77.5" y1="309.2" x2="88.5" y2="309.2" stroke="#9e1438" stroke-width="1.6"/>
<line x1="83" y1="301.2" x2="83" y2="309.2" stroke="#9e1438" stroke-width="1.6"/>
<rect x="109.80" y="285.20" width="4.0" height="4.0" fill="#28427c"/>
<rect x="118.80" y="288.80" width="4.0" height="4.0" fill="#28427c"/>
<rect x="115.40" y="291.40" width="4.0" height="4.0" fill="#28427c"/>
<rect x="106.80" y="295.40" width="4.0" height="4.0" fill="#28427c"/>
<rect x="109.80" y="300.60" width="4.0" height="4.0" fill="#28427c"/>
<rect x="115.40" y="305.00" width="4.0" height="4.0" fill="#28427c"/>
<rect x="104.40" y="309.30" width="4.0" height="4.0" fill="#28427c"/>
<rect x="109.90" y="309.30" width="4.0" height="4.0" fill="#28427c"/>
<rect x="115.40" y="309.30" width="4.0" height="4.0" fill="#28427c"/>
<rect x="120.90" y="309.30" width="4.0" height="4.0" fill="#28427c"/>
<rect x="103.50" y="313.00" width="4.0" height="4.0" fill="#28427c"/>
<rect x="108.25" y="313.00" width="4.0" height="4.0" fill="#28427c"/>
<rect x="113.00" y="313.00" width="4.0" height="4.0" fill="#28427c"/>
<rect x="117.75" y="313.00" width="4.0" height="4.0" fill="#28427c"/>
<rect x="122.50" y="313.00" width="4.0" height="4.0" fill="#28427c"/>
<rect x="106.00" y="317.00" width="4.0" height="4.0" fill="#28427c"/>
<rect x="110.67" y="317.00" width="4.0" height="4.0" fill="#28427c"/>
<rect x="115.33" y="317.00" width="4.0" height="4.0" fill="#28427c"/>
<rect x="120.00" y="317.00" width="4.0" height="4.0" fill="#28427c"/>
<rect x="103.50" y="320.50" width="4.0" height="4.0" fill="#28427c"/>
<rect x="108.25" y="320.50" width="4.0" height="4.0" fill="#28427c"/>
<rect x="113.00" y="320.50" width="4.0" height="4.0" fill="#28427c"/>
<rect x="117.75" y="320.50" width="4.0" height="4.0" fill="#28427c"/>
<rect x="122.50" y="320.50" width="4.0" height="4.0" fill="#28427c"/>
<rect x="105.50" y="324.50" width="4.0" height="4.0" fill="#28427c"/>
<rect x="110.50" y="324.50" width="4.0" height="4.0" fill="#28427c"/>
<rect x="115.50" y="324.50" width="4.0" height="4.0" fill="#28427c"/>
<rect x="120.50" y="324.50" width="4.0" height="4.0" fill="#28427c"/>
<rect x="104.00" y="328.50" width="4.0" height="4.0" fill="#28427c"/>
<rect x="108.50" y="328.50" width="4.0" height="4.0" fill="#28427c"/>
<rect x="113.00" y="328.50" width="4.0" height="4.0" fill="#28427c"/>
<rect x="117.50" y="328.50" width="4.0" height="4.0" fill="#28427c"/>
<rect x="122.00" y="328.50" width="4.0" height="4.0" fill="#28427c"/>
<rect x="106.00" y="332.50" width="4.0" height="4.0" fill="#28427c"/>
<rect x="110.67" y="332.50" width="4.0" height="4.0" fill="#28427c"/>
<rect x="115.33" y="332.50" width="4.0" height="4.0" fill="#28427c"/>
<rect x="120.00" y="332.50" width="4.0" height="4.0" fill="#28427c"/>
<rect x="108.50" y="336.50" width="4.0" height="4.0" fill="#28427c"/>
<rect x="113.25" y="336.50" width="4.0" height="4.0" fill="#28427c"/>
<rect x="118.00" y="336.50" width="4.0" height="4.0" fill="#28427c"/>
<rect x="111.00" y="340.20" width="4.0" height="4.0" fill="#28427c"/>
<rect x="115.50" y="340.20" width="4.0" height="4.0" fill="#28427c"/>
<line x1="104.3" y1="320.8" x2="126.3" y2="320.8" stroke="#28427c" stroke-width="1.6"/>
<line x1="110.3" y1="317.5" x2="120.3" y2="317.5" stroke="#28427c" stroke-width="1.6"/>
<line x1="110.3" y1="324" x2="120.3" y2="324" stroke="#28427c" stroke-width="1.6"/>
<line x1="115.3" y1="317.5" x2="115.3" y2="324" stroke="#28427c" stroke-width="1.6"/>
<polygon points="144.40,311.50 149.40,311.50 146.90,306.90" fill="#5f9d43"/>
<polygon points="136.00,320.80 141.00,320.80 138.50,316.20" fill="#5f9d43"/>
<polygon points="152.70,324.00 157.70,324.00 155.20,319.40" fill="#5f9d43"/>
<polygon points="142.10,326.50 147.10,326.50 144.60,321.90" fill="#5f9d43"/>
<polygon points="147.50,326.50 152.50,326.50 150.00,321.90" fill="#5f9d43"/>
<polygon points="136.00,338.30 141.00,338.30 138.50,333.70" fill="#5f9d43"/>
<polygon points="142.10,343.30 147.10,343.30 144.60,338.70" fill="#5f9d43"/>
<polygon points="147.90,343.30 152.90,343.30 150.40,338.70" fill="#5f9d43"/>
<polygon points="147.90,347.30 152.90,347.30 150.40,342.70" fill="#5f9d43"/>
<polygon points="142.10,349.00 147.10,349.00 144.60,344.40" fill="#5f9d43"/>
<polygon points="137.50,330.30 142.50,330.30 140.00,325.70" fill="#5f9d43"/>
<polygon points="152.50,330.30 157.50,330.30 155.00,325.70" fill="#5f9d43"/>
<polygon points="144.50,335.30 149.50,335.30 147.00,330.70" fill="#5f9d43"/>
<polygon points="138.50,333.80 143.50,333.80 141.00,329.20" fill="#5f9d43"/>
<polygon points="150.50,334.30 155.50,334.30 153.00,329.70" fill="#5f9d43"/>
<line x1="136" y1="330.4" x2="158" y2="330.4" stroke="#5f9d43" stroke-width="1.6"/>
<line x1="141.5" y1="327" x2="152.5" y2="327" stroke="#5f9d43" stroke-width="1.6"/>
<line x1="141.5" y1="334" x2="152.5" y2="334" stroke="#5f9d43" stroke-width="1.6"/>
<line x1="147" y1="327" x2="147" y2="334" stroke="#5f9d43" stroke-width="1.6"/>
<line x1="239.5" y1="255.5" x2="239.5" y2="351.3" stroke="#222222" stroke-width="2"/>
<line x1="238.7" y1="350.5" x2="338" y2="350.5" stroke="#222222" stroke-width="2"/>
<line x1="235.0" y1="350.8" x2="239.5" y2="350.8" stroke="#222222" stroke-width="1.6"/>
<text x="230.5" y="355.2" font-size="12" text-anchor="end" font-weight="normal" fill="#222222" textLength="6.5" lengthAdjust="spacingAndGlyphs" stroke="#262626" stroke-width="0.12">0</text>
<line x1="235.0" y1="327.375" x2="239.5" y2="327.375" stroke="#222222" stroke-width="1.6"/>
<text x="230.5" y="331.775" font-size="12" text-anchor="end" font-weight="normal" fill="#222222" textLength="13.0" lengthAdjust="spacingAndGlyphs" stroke="#262626" stroke-width="0.12">50</text>
<line x1="235.0" y1="303.95000000000005" x2="239.5" y2="303.95000000000005" stroke="#222222" stroke-width="1.6"/>
<text x="230.5" y="308.35" font-size="12" text-anchor="end" font-weight="normal" fill="#222222" textLength="19.5" lengthAdjust="spacingAndGlyphs" stroke="#262626" stroke-width="0.12">100</text>
<line x1="235.0" y1="280.52500000000003" x2="239.5" y2="280.52500000000003" stroke="#222222" stroke-width="1.6"/>
<text x="230.5" y="284.925" font-size="12" text-anchor="end" font-weight="normal" fill="#222222" textLength="19.5" lengthAdjust="spacingAndGlyphs" stroke="#262626" stroke-width="0.12">150</text>
<line x1="235.0" y1="257.1" x2="239.5" y2="257.1" stroke="#222222" stroke-width="1.6"/>
<text x="230.5" y="261.5" font-size="12" text-anchor="end" font-weight="normal" fill="#222222" textLength="19.5" lengthAdjust="spacingAndGlyphs" stroke="#262626" stroke-width="0.12">200</text>
<line x1="255" y1="350.5" x2="255" y2="356.0" stroke="#222222" stroke-width="1.6"/>
<text x="262.6" y="364.0" font-size="12.3" text-anchor="end" font-weight="normal" fill="#222222" transform="rotate(-45 262.6 364.0)" stroke="#262626" stroke-width="0.12">HD</text>
<line x1="285.9" y1="350.5" x2="285.9" y2="356.0" stroke="#222222" stroke-width="1.6"/>
<text x="293.5" y="364.0" font-size="12.3" text-anchor="end" font-weight="normal" fill="#222222" textLength="53" lengthAdjust="spacingAndGlyphs" transform="rotate(-45 293.5 364.0)" stroke="#262626" stroke-width="0.12">Non VOC</text>
<line x1="317" y1="350.5" x2="317" y2="356.0" stroke="#222222" stroke-width="1.6"/>
<text x="324.6" y="364.0" font-size="12.3" text-anchor="end" font-weight="normal" fill="#222222" transform="rotate(-45 324.6 364.0)" stroke="#262626" stroke-width="0.12">VOC</text>
<text x="185.5" y="302" font-size="13.2" text-anchor="middle" font-weight="normal" fill="#262626" textLength="102.3" lengthAdjust="spacingAndGlyphs" transform="rotate(-90 185.5 302)" stroke="#262626" stroke-width="0.05">Patrolling monocyte</text>
<text x="201" y="301.5" font-size="12.3" text-anchor="middle" font-weight="normal" fill="#262626" textLength="56.1" lengthAdjust="spacingAndGlyphs" transform="rotate(-90 201 301.5)" stroke="#262626" stroke-width="0.05">(/µl blood)</text>
<polyline points="285.7,268.3 285.7,263.5 322.6,263.5 322.6,268.3" fill="none" stroke="#222222" stroke-width="1.8"/>
<polygon points="304.30,255.50 304.92,257.15 306.68,257.23 305.30,258.32 305.77,260.02 304.30,259.05 302.83,260.02 303.30,258.32 301.92,257.23 303.68,257.15" fill="#222222"/>
<circle cx="260.6" cy="336.4" r="2.3" fill="#9e1438"/>
<circle cx="249.2" cy="338" r="2.3" fill="#9e1438"/>
<circle cx="255" cy="339" r="2.3" fill="#9e1438"/>
<circle cx="263" cy="340.5" r="2.3" fill="#9e1438"/>
<circle cx="247" cy="341" r="2.3" fill="#9e1438"/>
<circle cx="251" cy="341.5" r="2.3" fill="#9e1438"/>
<circle cx="255" cy="342.5" r="2.3" fill="#9e1438"/>
<circle cx="259" cy="342" r="2.3" fill="#9e1438"/>
<circle cx="254.8" cy="345.3" r="2.3" fill="#9e1438"/>
<circle cx="252" cy="344" r="2.3" fill="#9e1438"/>
<circle cx="258" cy="344" r="2.3" fill="#9e1438"/>
<line x1="245" y1="341.5" x2="265.5" y2="341.5" stroke="#9e1438" stroke-width="1.6"/>
<rect x="284.00" y="276.50" width="4.0" height="4.0" fill="#28427c"/>
<rect x="284.00" y="283.60" width="4.0" height="4.0" fill="#28427c"/>
<rect x="276.50" y="301.20" width="4.0" height="4.0" fill="#28427c"/>
<rect x="281.50" y="301.20" width="4.0" height="4.0" fill="#28427c"/>
<rect x="286.50" y="301.20" width="4.0" height="4.0" fill="#28427c"/>
<rect x="291.50" y="301.20" width="4.0" height="4.0" fill="#28427c"/>
<rect x="278.50" y="304.50" width="4.0" height="4.0" fill="#28427c"/>
<rect x="284.00" y="304.50" width="4.0" height="4.0" fill="#28427c"/>
<rect x="289.50" y="304.50" width="4.0" height="4.0" fill="#28427c"/>
<rect x="281.80" y="307.50" width="4.0" height="4.0" fill="#28427c"/>
<rect x="286.20" y="307.50" width="4.0" height="4.0" fill="#28427c"/>
<rect x="276.50" y="314.00" width="4.0" height="4.0" fill="#28427c"/>
<rect x="281.67" y="314.00" width="4.0" height="4.0" fill="#28427c"/>
<rect x="286.83" y="314.00" width="4.0" height="4.0" fill="#28427c"/>
<rect x="292.00" y="314.00" width="4.0" height="4.0" fill="#28427c"/>
<rect x="275.50" y="317.50" width="4.0" height="4.0" fill="#28427c"/>
<rect x="279.88" y="317.50" width="4.0" height="4.0" fill="#28427c"/>
<rect x="284.25" y="317.50" width="4.0" height="4.0" fill="#28427c"/>
<rect x="288.62" y="317.50" width="4.0" height="4.0" fill="#28427c"/>
<rect x="293.00" y="317.50" width="4.0" height="4.0" fill="#28427c"/>
<rect x="277.00" y="321.00" width="4.0" height="4.0" fill="#28427c"/>
<rect x="281.83" y="321.00" width="4.0" height="4.0" fill="#28427c"/>
<rect x="286.67" y="321.00" width="4.0" height="4.0" fill="#28427c"/>
<rect x="291.50" y="321.00" width="4.0" height="4.0" fill="#28427c"/>
<rect x="275.50" y="324.50" width="4.0" height="4.0" fill="#28427c"/>
<rect x="279.88" y="324.50" width="4.0" height="4.0" fill="#28427c"/>
<rect x="284.25" y="324.50" width="4.0" height="4.0" fill="#28427c"/>
<rect x="288.62" y="324.50" width="4.0" height="4.0" fill="#28427c"/>
<rect x="293.00" y="324.50" width="4.0" height="4.0" fill="#28427c"/>
<rect x="277.00" y="328.00" width="4.0" height="4.0" fill="#28427c"/>
<rect x="281.83" y="328.00" width="4.0" height="4.0" fill="#28427c"/>
<rect x="286.67" y="328.00" width="4.0" height="4.0" fill="#28427c"/>
<rect x="291.50" y="328.00" width="4.0" height="4.0" fill="#28427c"/>
<rect x="278.50" y="331.50" width="4.0" height="4.0" fill="#28427c"/>
<rect x="284.25" y="331.50" width="4.0" height="4.0" fill="#28427c"/>
<rect x="290.00" y="331.50" width="4.0" height="4.0" fill="#28427c"/>
<rect x="281.50" y="334.50" width="4.0" height="4.0" fill="#28427c"/>
<rect x="287.00" y="334.50" width="4.0" height="4.0" fill="#28427c"/>
<rect x="278.30" y="340.00" width="4.0" height="4.0" fill="#28427c"/>
<rect x="284.05" y="340.00" width="4.0" height="4.0" fill="#28427c"/>
<rect x="289.80" y="340.00" width="4.0" height="4.0" fill="#28427c"/>
<line x1="275" y1="321.2" x2="297" y2="321.2" stroke="#28427c" stroke-width="1.6"/>
<line x1="281" y1="318" x2="291" y2="318" stroke="#28427c" stroke-width="1.6"/>
<line x1="281" y1="325" x2="291" y2="325" stroke="#28427c" stroke-width="1.6"/>
<line x1="286" y1="318" x2="286" y2="325" stroke="#28427c" stroke-width="1.6"/>
<polygon points="314.00,309.60 319.00,309.60 316.50,305.00" fill="#5f9d43"/>
<polygon points="306.30,325.80 311.30,325.80 308.80,321.20" fill="#5f9d43"/>
<polygon points="311.50,325.80 316.50,325.80 314.00,321.20" fill="#5f9d43"/>
<polygon points="316.70,325.80 321.70,325.80 319.20,321.20" fill="#5f9d43"/>
<polygon points="322.00,325.80 327.00,325.80 324.50,321.20" fill="#5f9d43"/>
<polygon points="306.30,346.10 311.30,346.10 308.80,341.50" fill="#5f9d43"/>
<polygon points="311.50,349.30 316.50,349.30 314.00,344.70" fill="#5f9d43"/>
<polygon points="316.70,348.30 321.70,348.30 319.20,343.70" fill="#5f9d43"/>
<polygon points="322.00,345.00 327.00,345.00 324.50,340.40" fill="#5f9d43"/>
<polygon points="314.00,341.10 319.00,341.10 316.50,336.50" fill="#5f9d43"/>
<polygon points="308.50,338.30 313.50,338.30 311.00,333.70" fill="#5f9d43"/>
<polygon points="318.50,333.30 323.50,333.30 321.00,328.70" fill="#5f9d43"/>
<polygon points="309.50,332.30 314.50,332.30 312.00,327.70" fill="#5f9d43"/>
<polygon points="313.50,330.30 318.50,330.30 316.00,325.70" fill="#5f9d43"/>
<line x1="305.5" y1="332.7" x2="327.5" y2="332.7" stroke="#5f9d43" stroke-width="1.6"/>
<line x1="311.0" y1="329" x2="322.0" y2="329" stroke="#5f9d43" stroke-width="1.6"/>
<line x1="311.0" y1="336" x2="322.0" y2="336" stroke="#5f9d43" stroke-width="1.6"/>
<line x1="316.5" y1="329" x2="316.5" y2="336" stroke="#5f9d43" stroke-width="1.6"/>
<line x1="411.3" y1="249.8" x2="411.3" y2="351.0" stroke="#222222" stroke-width="2"/>
<line x1="410.5" y1="350.2" x2="508" y2="350.2" stroke="#222222" stroke-width="2"/>
<line x1="406.8" y1="350.2" x2="411.3" y2="350.2" stroke="#222222" stroke-width="1.6"/>
<text x="402.3" y="354.59999999999997" font-size="12" text-anchor="end" font-weight="normal" fill="#222222" textLength="6.5" lengthAdjust="spacingAndGlyphs" stroke="#262626" stroke-width="0.12">0</text>
<line x1="406.8" y1="317.93333333333334" x2="411.3" y2="317.93333333333334" stroke="#222222" stroke-width="1.6"/>
<text x="402.3" y="322.3333333333333" font-size="12" text-anchor="end" font-weight="normal" fill="#222222" textLength="13.0" lengthAdjust="spacingAndGlyphs" stroke="#262626" stroke-width="0.12">20</text>
<line x1="406.8" y1="285.6666666666667" x2="411.3" y2="285.6666666666667" stroke="#222222" stroke-width="1.6"/>
<text x="402.3" y="290.06666666666666" font-size="12" text-anchor="end" font-weight="normal" fill="#222222" textLength="13.0" lengthAdjust="spacingAndGlyphs" stroke="#262626" stroke-width="0.12">40</text>
<line x1="406.8" y1="253.4" x2="411.3" y2="253.4" stroke="#222222" stroke-width="1.6"/>
<text x="402.3" y="257.8" font-size="12" text-anchor="end" font-weight="normal" fill="#222222" textLength="13.0" lengthAdjust="spacingAndGlyphs" stroke="#262626" stroke-width="0.12">60</text>
<line x1="435.7" y1="350.2" x2="435.7" y2="355.7" stroke="#222222" stroke-width="1.6"/>
<text x="443.3" y="363.7" font-size="12.3" text-anchor="end" font-weight="normal" fill="#222222" textLength="53" lengthAdjust="spacingAndGlyphs" transform="rotate(-45 443.3 363.7)" stroke="#262626" stroke-width="0.12">Non VOC</text>
<line x1="484.8" y1="350.2" x2="484.8" y2="355.7" stroke="#222222" stroke-width="1.6"/>
<text x="492.40000000000003" y="363.7" font-size="12.3" text-anchor="end" font-weight="normal" fill="#222222" transform="rotate(-45 492.40000000000003 363.7)" stroke="#262626" stroke-width="0.12">VOC</text>
<text x="363.5" y="301" font-size="12.3" text-anchor="middle" font-weight="normal" fill="#262626" textLength="86.6" lengthAdjust="spacingAndGlyphs" transform="rotate(-90 363.5 301)" stroke="#262626" stroke-width="0.05">HO-1<tspan font-size='9.5' dy='-4.5'>hi</tspan><tspan dy='4.5'> patrolling</tspan></text>
<text x="379" y="299" font-size="12.3" text-anchor="middle" font-weight="normal" fill="#262626" textLength="106.2" lengthAdjust="spacingAndGlyphs" transform="rotate(-90 379 299)" stroke="#262626" stroke-width="0.05">monocyte (/µl blood)</text>
<polygon points="484.70,284.70 485.32,286.35 487.08,286.43 485.70,287.52 486.17,289.22 484.70,288.25 483.23,289.22 483.70,287.52 482.32,286.43 484.08,286.35" fill="#222222"/>
<rect x="434.10" y="255.70" width="4.0" height="4.0" fill="#28427c"/>
<rect x="434.10" y="265.00" width="4.0" height="4.0" fill="#28427c"/>
<rect x="431.00" y="277.80" width="4.0" height="4.0" fill="#28427c"/>
<rect x="436.90" y="279.70" width="4.0" height="4.0" fill="#28427c"/>
<rect x="434.10" y="288.20" width="4.0" height="4.0" fill="#28427c"/>
<rect x="430.80" y="299.60" width="4.0" height="4.0" fill="#28427c"/>
<rect x="437.00" y="302.80" width="4.0" height="4.0" fill="#28427c"/>
<rect x="419.30" y="305.30" width="4.0" height="4.0" fill="#28427c"/>
<rect x="425.50" y="305.70" width="4.0" height="4.0" fill="#28427c"/>
<rect x="441.90" y="305.30" width="4.0" height="4.0" fill="#28427c"/>
<rect x="447.20" y="304.10" width="4.0" height="4.0" fill="#28427c"/>
<rect x="431.20" y="309.00" width="4.0" height="4.0" fill="#28427c"/>
<rect x="436.10" y="308.60" width="4.0" height="4.0" fill="#28427c"/>
<rect x="446.00" y="310.20" width="4.0" height="4.0" fill="#28427c"/>
<rect x="419.30" y="324.60" width="4.0" height="4.0" fill="#28427c"/>
<rect x="424.70" y="326.60" width="4.0" height="4.0" fill="#28427c"/>
<rect x="430.80" y="329.10" width="4.0" height="4.0" fill="#28427c"/>
<rect x="436.10" y="325.80" width="4.0" height="4.0" fill="#28427c"/>
<rect x="439.40" y="329.50" width="4.0" height="4.0" fill="#28427c"/>
<rect x="444.70" y="328.20" width="4.0" height="4.0" fill="#28427c"/>
<rect x="447.60" y="331.90" width="4.0" height="4.0" fill="#28427c"/>
<rect x="419.30" y="333.20" width="4.0" height="4.0" fill="#28427c"/>
<rect x="425.10" y="333.60" width="4.0" height="4.0" fill="#28427c"/>
<rect x="430.80" y="337.30" width="4.0" height="4.0" fill="#28427c"/>
<rect x="436.10" y="335.20" width="4.0" height="4.0" fill="#28427c"/>
<rect x="441.90" y="333.20" width="4.0" height="4.0" fill="#28427c"/>
<rect x="420.00" y="314.60" width="4.0" height="4.0" fill="#28427c"/>
<rect x="423.58" y="314.60" width="4.0" height="4.0" fill="#28427c"/>
<rect x="427.17" y="314.60" width="4.0" height="4.0" fill="#28427c"/>
<rect x="430.75" y="314.60" width="4.0" height="4.0" fill="#28427c"/>
<rect x="434.33" y="314.60" width="4.0" height="4.0" fill="#28427c"/>
<rect x="437.92" y="314.60" width="4.0" height="4.0" fill="#28427c"/>
<rect x="441.50" y="314.60" width="4.0" height="4.0" fill="#28427c"/>
<rect x="420.00" y="320.00" width="4.0" height="4.0" fill="#28427c"/>
<rect x="424.00" y="320.00" width="4.0" height="4.0" fill="#28427c"/>
<rect x="428.00" y="320.00" width="4.0" height="4.0" fill="#28427c"/>
<rect x="432.00" y="320.00" width="4.0" height="4.0" fill="#28427c"/>
<rect x="436.00" y="320.00" width="4.0" height="4.0" fill="#28427c"/>
<rect x="440.00" y="320.00" width="4.0" height="4.0" fill="#28427c"/>
<rect x="444.00" y="320.00" width="4.0" height="4.0" fill="#28427c"/>
<rect x="448.00" y="320.00" width="4.0" height="4.0" fill="#28427c"/>
<line x1="420" y1="315.9" x2="452" y2="315.9" stroke="#28427c" stroke-width="1.6"/>
<line x1="428.5" y1="312.2" x2="443.5" y2="312.2" stroke="#28427c" stroke-width="1.6"/>
<line x1="428.5" y1="321.6" x2="443.5" y2="321.6" stroke="#28427c" stroke-width="1.6"/>
<line x1="436" y1="312.2" x2="436" y2="321.6" stroke="#28427c" stroke-width="1.6"/>
<polygon points="479.30,306.30 484.30,306.30 481.80,301.70" fill="#5f9d43"/>
<polygon points="485.20,310.80 490.20,310.80 487.70,306.20" fill="#5f9d43"/>
<polygon points="482.20,317.10 487.20,317.10 484.70,312.50" fill="#5f9d43"/>
<polygon points="479.30,320.60 484.30,320.60 481.80,316.00" fill="#5f9d43"/>
<polygon points="485.20,326.00 490.20,326.00 487.70,321.40" fill="#5f9d43"/>
<polygon points="473.40,337.80 478.40,337.80 475.90,333.20" fill="#5f9d43"/>
<polygon points="490.70,339.70 495.70,339.70 493.20,335.10" fill="#5f9d43"/>
<polygon points="476.30,343.70 481.30,343.70 478.80,339.10" fill="#5f9d43"/>
<polygon points="484.80,343.70 489.80,343.70 487.30,339.10" fill="#5f9d43"/>
<polygon points="487.50,346.60 492.50,346.60 490.00,342.00" fill="#5f9d43"/>
<polygon points="482.20,349.60 487.20,349.60 484.70,345.00" fill="#5f9d43"/>
<line x1="468.4" y1="329.6" x2="501.0" y2="329.6" stroke="#5f9d43" stroke-width="1.6"/>
<line x1="478.7" y1="325.6" x2="490.7" y2="325.6" stroke="#5f9d43" stroke-width="1.6"/>
<line x1="478.7" y1="334" x2="490.7" y2="334" stroke="#5f9d43" stroke-width="1.6"/>
<line x1="484.7" y1="325.6" x2="484.7" y2="334" stroke="#5f9d43" stroke-width="1.6"/>
<line x1="76.2" y1="458" x2="76.2" y2="557.8" stroke="#222222" stroke-width="2"/>
<line x1="75.4" y1="557" x2="318.4" y2="557" stroke="#222222" stroke-width="2"/>
<line x1="71.7" y1="557.0" x2="76.2" y2="557.0" stroke="#222222" stroke-width="1.6"/>
<text x="67.2" y="561.4" font-size="12" text-anchor="end" font-weight="normal" fill="#222222" textLength="6.5" lengthAdjust="spacingAndGlyphs" stroke="#262626" stroke-width="0.12">0</text>
<line x1="71.7" y1="524.5" x2="76.2" y2="524.5" stroke="#222222" stroke-width="1.6"/>
<text x="67.2" y="528.9" font-size="12" text-anchor="end" font-weight="normal" fill="#222222" textLength="13.0" lengthAdjust="spacingAndGlyphs" stroke="#262626" stroke-width="0.12">10</text>
<line x1="71.7" y1="492.0" x2="76.2" y2="492.0" stroke="#222222" stroke-width="1.6"/>
<text x="67.2" y="496.4" font-size="12" text-anchor="end" font-weight="normal" fill="#222222" textLength="13.0" lengthAdjust="spacingAndGlyphs" stroke="#262626" stroke-width="0.12">20</text>
<line x1="71.7" y1="459.5" x2="76.2" y2="459.5" stroke="#222222" stroke-width="1.6"/>
<text x="67.2" y="463.9" font-size="12" text-anchor="end" font-weight="normal" fill="#222222" textLength="13.0" lengthAdjust="spacingAndGlyphs" stroke="#262626" stroke-width="0.12">30</text>
<line x1="92.4" y1="557" x2="92.4" y2="562.5" stroke="#222222" stroke-width="1.6"/>
<text x="92.4" y="577" font-size="12" text-anchor="middle" font-weight="normal" fill="#222222" stroke="#262626" stroke-width="0.12">1</text>
<line x1="126.92000000000002" y1="557" x2="126.92000000000002" y2="562.5" stroke="#222222" stroke-width="1.6"/>
<text x="126.92000000000002" y="577" font-size="12" text-anchor="middle" font-weight="normal" fill="#222222" stroke="#262626" stroke-width="0.12">2</text>
<line x1="161.44" y1="557" x2="161.44" y2="562.5" stroke="#222222" stroke-width="1.6"/>
<text x="161.44" y="577" font-size="12" text-anchor="middle" font-weight="normal" fill="#222222" stroke="#262626" stroke-width="0.12">3</text>
<line x1="195.96" y1="557" x2="195.96" y2="562.5" stroke="#222222" stroke-width="1.6"/>
<text x="195.96" y="577" font-size="12" text-anchor="middle" font-weight="normal" fill="#222222" stroke="#262626" stroke-width="0.12">4</text>
<line x1="230.48000000000002" y1="557" x2="230.48000000000002" y2="562.5" stroke="#222222" stroke-width="1.6"/>
<text x="230.48000000000002" y="577" font-size="12" text-anchor="middle" font-weight="normal" fill="#222222" stroke="#262626" stroke-width="0.12">5</text>
<line x1="265.0" y1="557" x2="265.0" y2="562.5" stroke="#222222" stroke-width="1.6"/>
<text x="265.0" y="577" font-size="12" text-anchor="middle" font-weight="normal" fill="#222222" stroke="#262626" stroke-width="0.12">6</text>
<line x1="299.52" y1="557" x2="299.52" y2="562.5" stroke="#222222" stroke-width="1.6"/>
<text x="299.52" y="577" font-size="12" text-anchor="middle" font-weight="normal" fill="#222222" stroke="#262626" stroke-width="0.12">7</text>
<text x="197" y="596.3" font-size="14.3" text-anchor="middle" font-weight="normal" fill="#222222" textLength="71.8" lengthAdjust="spacingAndGlyphs" stroke="#262626" stroke-width="0.12">Time (months)</text>
<text x="29.5" y="510" font-size="12.3" text-anchor="middle" font-weight="normal" fill="#262626" textLength="88.6" lengthAdjust="spacingAndGlyphs" transform="rotate(-90 29.5 510)" stroke="#262626" stroke-width="0.05">HO-1<tspan font-size='9.5' dy='-4.5'>hi</tspan><tspan dy='4.5'> patrolling</tspan></text>
<text x="45" y="508" font-size="12.3" text-anchor="middle" font-weight="normal" fill="#262626" textLength="106.3" lengthAdjust="spacingAndGlyphs" transform="rotate(-90 45 508)" stroke="#262626" stroke-width="0.05">monocyte (/µl blood)</text>
<line x1="92.4" y1="522.4" x2="92.4" y2="536" stroke="#28427c" stroke-width="1.6"/>
<line x1="88.80000000000001" y1="522.4" x2="96.0" y2="522.4" stroke="#28427c" stroke-width="1.6"/>
<line x1="88.80000000000001" y1="536" x2="96.0" y2="536" stroke="#28427c" stroke-width="1.6"/>
<line x1="126.92000000000002" y1="466.1" x2="126.92000000000002" y2="510" stroke="#9e1438" stroke-width="1.6"/>
<line x1="123.32000000000002" y1="466.1" x2="130.52" y2="466.1" stroke="#9e1438" stroke-width="1.6"/>
<line x1="123.32000000000002" y1="510" x2="130.52" y2="510" stroke="#9e1438" stroke-width="1.6"/>
<line x1="126.92000000000002" y1="524" x2="126.92000000000002" y2="528" stroke="#28427c" stroke-width="1.6"/>
<line x1="123.32000000000002" y1="524" x2="130.52" y2="524" stroke="#28427c" stroke-width="1.6"/>
<line x1="123.32000000000002" y1="528" x2="130.52" y2="528" stroke="#28427c" stroke-width="1.6"/>
<line x1="161.44" y1="484" x2="161.44" y2="508.8" stroke="#9e1438" stroke-width="1.6"/>
<line x1="157.84" y1="484" x2="165.04" y2="484" stroke="#9e1438" stroke-width="1.6"/>
<line x1="157.84" y1="508.8" x2="165.04" y2="508.8" stroke="#9e1438" stroke-width="1.6"/>
<line x1="161.44" y1="531" x2="161.44" y2="534" stroke="#28427c" stroke-width="1.6"/>
<line x1="157.84" y1="531" x2="165.04" y2="531" stroke="#28427c" stroke-width="1.6"/>
<line x1="157.84" y1="534" x2="165.04" y2="534" stroke="#28427c" stroke-width="1.6"/>
<line x1="195.96" y1="474.8" x2="195.96" y2="496.4" stroke="#9e1438" stroke-width="1.6"/>
<line x1="192.36" y1="474.8" x2="199.56" y2="474.8" stroke="#9e1438" stroke-width="1.6"/>
<line x1="192.36" y1="496.4" x2="199.56" y2="496.4" stroke="#9e1438" stroke-width="1.6"/>
<line x1="195.96" y1="518" x2="195.96" y2="532" stroke="#28427c" stroke-width="1.6"/>
<line x1="192.36" y1="518" x2="199.56" y2="518" stroke="#28427c" stroke-width="1.6"/>
<line x1="192.36" y1="532" x2="199.56" y2="532" stroke="#28427c" stroke-width="1.6"/>
<line x1="230.48000000000002" y1="481.1" x2="230.48000000000002" y2="504.2" stroke="#9e1438" stroke-width="1.6"/>
<line x1="226.88000000000002" y1="481.1" x2="234.08" y2="481.1" stroke="#9e1438" stroke-width="1.6"/>
<line x1="226.88000000000002" y1="504.2" x2="234.08" y2="504.2" stroke="#9e1438" stroke-width="1.6"/>
<line x1="230.48000000000002" y1="528" x2="230.48000000000002" y2="532" stroke="#28427c" stroke-width="1.6"/>
<line x1="226.88000000000002" y1="528" x2="234.08" y2="528" stroke="#28427c" stroke-width="1.6"/>
<line x1="226.88000000000002" y1="532" x2="234.08" y2="532" stroke="#28427c" stroke-width="1.6"/>
<line x1="265.0" y1="474.2" x2="265.0" y2="495.6" stroke="#9e1438" stroke-width="1.6"/>
<line x1="261.4" y1="474.2" x2="268.6" y2="474.2" stroke="#9e1438" stroke-width="1.6"/>
<line x1="261.4" y1="495.6" x2="268.6" y2="495.6" stroke="#9e1438" stroke-width="1.6"/>
<line x1="265.0" y1="514.3" x2="265.0" y2="540.3" stroke="#28427c" stroke-width="1.6"/>
<line x1="261.4" y1="514.3" x2="268.6" y2="514.3" stroke="#28427c" stroke-width="1.6"/>
<line x1="261.4" y1="540.3" x2="268.6" y2="540.3" stroke="#28427c" stroke-width="1.6"/>
<line x1="299.52" y1="490.7" x2="299.52" y2="504.2" stroke="#9e1438" stroke-width="1.6"/>
<line x1="295.91999999999996" y1="490.7" x2="303.12" y2="490.7" stroke="#9e1438" stroke-width="1.6"/>
<line x1="295.91999999999996" y1="504.2" x2="303.12" y2="504.2" stroke="#9e1438" stroke-width="1.6"/>
<line x1="299.52" y1="524" x2="299.52" y2="527" stroke="#28427c" stroke-width="1.6"/>
<line x1="295.91999999999996" y1="524" x2="303.12" y2="524" stroke="#28427c" stroke-width="1.6"/>
<line x1="295.91999999999996" y1="527" x2="303.12" y2="527" stroke="#28427c" stroke-width="1.6"/>
<polyline points="92.4,490.7 126.9,487.8 161.4,496.4 196.0,484.9 230.5,492.1 265.0,484.9 299.5,497.9" fill="none" stroke="#9e1438" stroke-width="2.1"/>
<polyline points="92.4,529.6 126.9,525.9 161.4,532.5 196.0,525.3 230.5,530.2 265.0,527.3 299.5,525.3" fill="none" stroke="#28427c" stroke-width="2.1"/>
<circle cx="92.4" cy="490.7" r="3.3" fill="#9e1438"/>
<rect x="89.30" y="526.50" width="6.2" height="6.2" fill="#28427c"/>
<circle cx="126.92000000000002" cy="487.8" r="3.3" fill="#9e1438"/>
<rect x="123.82" y="522.80" width="6.2" height="6.2" fill="#28427c"/>
<circle cx="161.44" cy="496.4" r="3.3" fill="#9e1438"/>
<rect x="158.34" y="529.40" width="6.2" height="6.2" fill="#28427c"/>
<circle cx="195.96" cy="484.9" r="3.3" fill="#9e1438"/>
<rect x="192.86" y="522.20" width="6.2" height="6.2" fill="#28427c"/>
<circle cx="230.48000000000002" cy="492.1" r="3.3" fill="#9e1438"/>
<rect x="227.38" y="527.10" width="6.2" height="6.2" fill="#28427c"/>
<circle cx="265.0" cy="484.9" r="3.3" fill="#9e1438"/>
<rect x="261.90" y="524.20" width="6.2" height="6.2" fill="#28427c"/>
<circle cx="299.52" cy="497.9" r="3.3" fill="#9e1438"/>
<rect x="296.42" y="522.20" width="6.2" height="6.2" fill="#28427c"/>
<line x1="131.3" y1="446" x2="148.6" y2="446" stroke="#9e1438" stroke-width="2.4"/>
<circle cx="140" cy="446" r="3.3" fill="#9e1438"/>
<text x="154.4" y="450.3" font-size="12" text-anchor="start" font-weight="normal" fill="#222222" textLength="47.3" lengthAdjust="spacingAndGlyphs">Non-VOC</text>
<line x1="215.9" y1="446" x2="234" y2="446" stroke="#28427c" stroke-width="2.4"/>
<rect x="222.10" y="442.90" width="6.2" height="6.2" fill="#28427c"/>
<text x="238.9" y="450.3" font-size="12" text-anchor="start" font-weight="normal" fill="#222222" textLength="23.1" lengthAdjust="spacingAndGlyphs">VOC</text>
<line x1="230.4" y1="506" x2="230.4" y2="519" stroke="#222222" stroke-width="1.6"/>
<polygon points="226.4,516.5 234.4,516.5 230.4,523" fill="#222222"/>
<text x="235.2" y="513.7" font-size="12" text-anchor="start" font-weight="normal" fill="#222222" textLength="25.4" lengthAdjust="spacingAndGlyphs">VOC</text>
<polyline points="311,496.4 318.3,496.4 318.3,527 311,527" fill="none" stroke="#222222" stroke-width="1.6"/>
<polygon points="324.85,510.10 325.47,511.75 327.23,511.83 325.85,512.92 326.32,514.62 324.85,513.65 323.38,514.62 323.85,512.92 322.47,511.83 324.23,511.75" fill="#222222"/>
<polygon points="330.15,510.10 330.77,511.75 332.53,511.83 331.15,512.92 331.62,514.62 330.15,513.65 328.68,514.62 329.15,512.92 327.77,511.83 329.53,511.75" fill="#222222"/>
</svg></body></html>
